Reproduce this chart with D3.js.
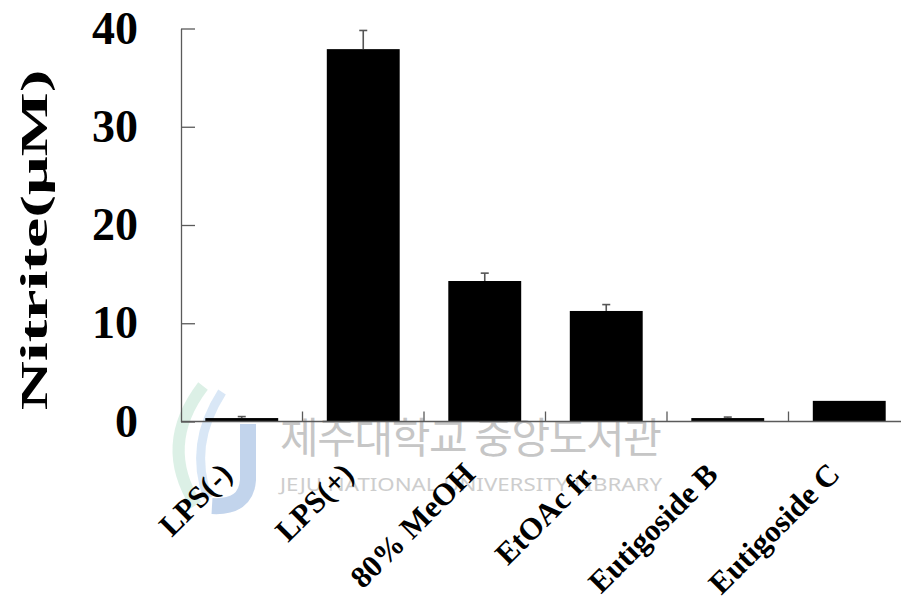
<!DOCTYPE html>
<html>
<head>
<meta charset="utf-8">
<script src="https://cdn.jsdelivr.net/npm/d3@7/dist/d3.min.js"></script>
<style>
  html, body { margin: 0; padding: 0; background: #fff; }
  svg { display: block; }
</style>
</head>
<body>
<svg id="chart" width="901" height="603"></svg>
<script>
// Nitrite production per treatment
const categories = ["LPS(-)", "LPS(+)", "80% MeOH", "EtOAc fr.", "Eutigoside B", "Eutigoside C"];
const nitrite = [0.35, 37.9, 14.3, 11.25, 0.35, 2.1];
const errors = [0.15, 1.9, 0.8, 0.65, 0.1, 0];
const yTicks = [0, 10, 20, 30, 40];

const svg = d3.select("#chart");
const serif = "'Liberation Serif', 'Times New Roman', serif";
const axisColor = "#5a5a5a";

const x = d3.scaleBand().domain(categories).range([181, 910]).paddingInner(0.4).paddingOuter(0.2);
const y = d3.scaleLinear().domain([0, 40]).range([421.5, 28.5]);
const step = x.step();

// library watermark (faint, behind the chart)
const wm = svg.append("g").attr("class", "watermark");
wm.append("path").attr("d", "M203,386 Q158,445 196,505").attr("fill", "none")
  .attr("stroke", "#bfe3d2").attr("stroke-width", 12).attr("opacity", 0.55);
wm.append("path").attr("d", "M222,392 Q188,445 208,498").attr("fill", "none")
  .attr("stroke", "#b9d4ee").attr("stroke-width", 9).attr("opacity", 0.55);
wm.append("path").attr("d", "M248,424 L248,480 Q246,508 212,506").attr("fill", "none")
  .attr("stroke", "#9ab8e0").attr("stroke-width", 16).attr("opacity", 0.6);
wm.append("text").attr("x", 280).attr("y", 453)
  .attr("font-family", "'Noto Sans CJK KR', sans-serif").attr("font-size", 42)
  .attr("fill", "#c6c6c6").attr("textLength", 382).attr("lengthAdjust", "spacing")
  .text("제주대학교 중앙도서관");
wm.append("text").attr("x", 280).attr("y", 491)
  .attr("font-family", "'Noto Sans', sans-serif").attr("font-size", 18)
  .attr("fill", "#cdcdcd").attr("textLength", 382).attr("lengthAdjust", "spacingAndGlyphs")
  .text("JEJU NATIONAL UNIVERSITY LIBRARY");

// bars
svg.append("g").selectAll("rect").data(categories).join("rect")
  .attr("x", d => x(d))
  .attr("width", x.bandwidth())
  .attr("y", (d, i) => y(nitrite[i]))
  .attr("height", (d, i) => y(0) - y(nitrite[i]))
  .attr("fill", "#000");

// upper error bars
const eb = svg.append("g").attr("stroke", "#555").attr("stroke-width", 1.6);
categories.forEach((c, i) => {
  if (!errors[i]) return;
  const cx = x(c) + x.bandwidth() / 2;
  eb.append("line").attr("x1", cx).attr("x2", cx)
    .attr("y1", y(nitrite[i])).attr("y2", y(nitrite[i] + errors[i]));
  eb.append("line").attr("x1", cx - 4).attr("x2", cx + 4)
    .attr("y1", y(nitrite[i] + errors[i])).attr("y2", y(nitrite[i] + errors[i]));
});

// y axis: ticks point inward, labels on the left
const yAxis = svg.append("g").attr("transform", "translate(181,0)")
  .call(d3.axisLeft(y).tickValues(yTicks).tickSizeInner(-14).tickSizeOuter(0).tickPadding(43));
yAxis.select(".domain").attr("stroke", axisColor).attr("stroke-width", 1.3);
yAxis.selectAll(".tick line").attr("stroke", axisColor).attr("stroke-width", 1.3);
yAxis.selectAll(".tick text")
  .attr("font-family", serif).attr("font-weight", "bold").attr("font-size", 46)
  .attr("fill", "#000");

// x axis baseline with category separators
const xg = svg.append("g");
xg.append("line").attr("x1", 181).attr("x2", 910).attr("y1", y(0)).attr("y2", y(0))
  .attr("stroke", axisColor).attr("stroke-width", 1.3);
xg.selectAll("line.sep").data(categories).join("line").attr("class", "sep")
  .attr("x1", d => x(d) - x.paddingOuter() * step + step)
  .attr("x2", d => x(d) - x.paddingOuter() * step + step)
  .attr("y1", y(0)).attr("y2", y(0) - 10)
  .attr("stroke", axisColor).attr("stroke-width", 1.3);

// rotated category labels
svg.append("g").selectAll("text").data(categories).join("text")
  .attr("transform", d => `translate(${x(d) + x.bandwidth() / 2 - 8},476) rotate(-45)`)
  .attr("text-anchor", "end")
  .attr("font-family", serif).attr("font-weight", "bold").attr("font-size", 31)
  .attr("fill", "#000")
  .text(d => d);

// y axis title
svg.append("text")
  .attr("transform", "translate(47,240) rotate(-90) scale(1.79,1)")
  .attr("text-anchor", "middle")
  .attr("font-family", serif).attr("font-weight", "bold").attr("font-size", 38)
  .attr("fill", "#000")
  .text("Nitrite(μM)");
</script>
</body>
</html>
